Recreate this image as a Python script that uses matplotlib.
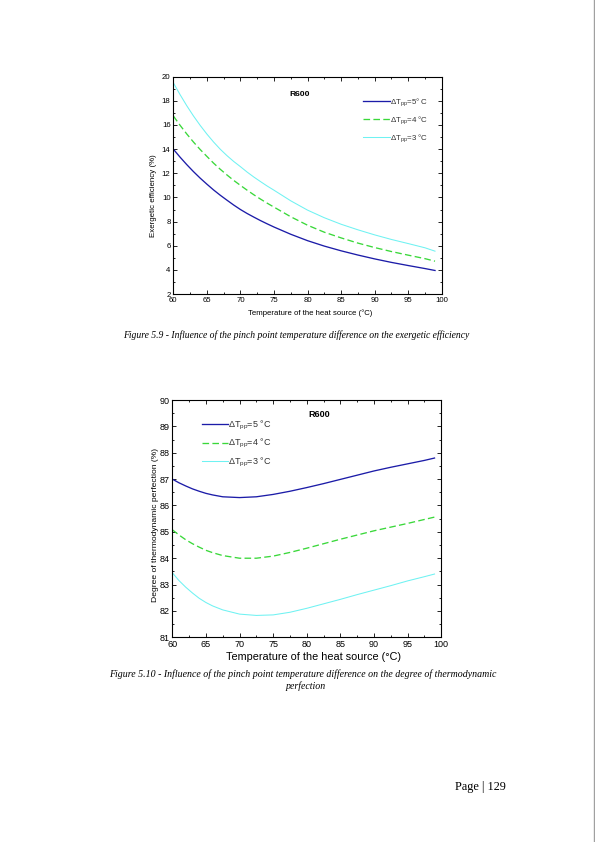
import matplotlib
matplotlib.use("Agg")
import matplotlib.pyplot as plt
from matplotlib.ticker import MultipleLocator
from matplotlib.lines import Line2D

plt.rcParams['font.family'] = ['Liberation Sans', 'DejaVu Sans']
plt.rcParams['mathtext.fontset'] = 'custom'
plt.rcParams['mathtext.rm'] = 'Liberation Sans'
plt.rcParams['mathtext.it'] = 'Liberation Sans'

# ---- data ----
temp_top = [60, 61, 62, 63, 64, 65, 66, 67, 68, 69, 70, 71, 72, 73, 74, 75,
            77.5, 80, 82.5, 85, 87.5, 90, 92.5, 95, 97.5, 99]
exerg_pp5 = [14.0, 13.34, 12.72, 12.14, 11.6, 11.1, 10.62, 10.18, 9.77, 9.37, 9.0,
             8.67, 8.37, 8.08, 7.81, 7.55,
             6.95, 6.42, 5.97, 5.58, 5.23, 4.91, 4.62, 4.36, 4.11, 3.95]
exerg_pp4 = [16.75, 15.98, 15.26, 14.59, 13.97, 13.4, 12.84, 12.33, 11.86, 11.41, 11.0,
             10.6, 10.22, 9.86, 9.52, 9.2,
             8.4, 7.7, 7.12, 6.65, 6.22, 5.85, 5.52, 5.22, 4.93, 4.72]
exerg_pp3 = [19.5, 18.52, 17.6, 16.75, 15.97, 15.25, 14.59, 13.99, 13.46, 12.98, 12.55,
             12.1, 11.69, 11.31, 10.94, 10.6,
             9.72, 8.95, 8.32, 7.78, 7.32, 6.9, 6.52, 6.18, 5.83, 5.55]

temp_bot = [60, 61, 62, 63, 64, 65, 66, 67.5, 70, 72.5, 75, 77.5, 80, 82.5, 85,
            87.5, 90, 92.5, 95, 97.5, 99]
perf_pp5 = [87.0, 86.86, 86.74, 86.63, 86.54, 86.46, 86.4, 86.33, 86.30, 86.33, 86.42,
            86.54, 86.68, 86.83, 86.99, 87.15, 87.31, 87.45, 87.58, 87.71, 87.80]
perf_pp4 = [85.08, 84.88, 84.7, 84.55, 84.42, 84.3, 84.21, 84.1, 84.0, 84.0, 84.08,
            84.22, 84.38, 84.55, 84.72, 84.88, 85.04, 85.18, 85.32, 85.47, 85.56]
perf_pp3 = [83.45, 83.15, 82.9, 82.68, 82.48, 82.32, 82.19, 82.04, 81.88, 81.83, 81.85,
            81.95, 82.1, 82.27, 82.44, 82.62, 82.79, 82.96, 83.14, 83.3, 83.4]

labels_top = [r'$\Delta$T$_{\rm pp}$=5° C', r'$\Delta$T$_{\rm pp}$=4 °C', r'$\Delta$T$_{\rm pp}$=3 °C']
labels_bot = [r'$\Delta$T$_{\rm pp}$=5 °C', r'$\Delta$T$_{\rm pp}$=4 °C', r'$\Delta$T$_{\rm pp}$=3 °C']

xticks = [60, 65, 70, 75, 80, 85, 90, 95, 100]
yticks_top = [2, 4, 6, 8, 10, 12, 14, 16, 18, 20]
yticks_bot = [81, 82, 83, 84, 85, 86, 87, 88, 89, 90]

c_blue = '#1c1ca8'
c_green = '#3ad83a'
c_cyan = '#6ff2f2'

fig = plt.figure(figsize=(5.95, 8.42), dpi=100)


def style_axes(ax, ymin, ymax, yticks, yminor, fs):
    ax.set_xlim(60, 100)
    ax.set_ylim(ymin, ymax)
    ax.set_xticks(xticks)
    ax.set_yticks(yticks)
    ax.xaxis.set_minor_locator(MultipleLocator(2.5))
    ax.yaxis.set_minor_locator(MultipleLocator(yminor))
    ax.tick_params(which='both', direction='in', top=True, right=True, labelsize=fs, pad=2, width=0.6)
    ax.tick_params(which='major', length=3)
    ax.tick_params(which='minor', length=1.5)
    for s in ax.spines.values():
        s.set_linewidth(0.8)


# ---- top chart ----
ax1 = fig.add_axes([0.2913, 0.6508, 0.4511, 0.2581])
ax1.plot(temp_top, exerg_pp5, color=c_blue, lw=0.95)
ax1.plot(temp_top, exerg_pp4, color=c_green, lw=0.95, dashes=(5, 2.5))
ax1.plot(temp_top, exerg_pp3, color=c_cyan, lw=0.75)
style_axes(ax1, 2, 20, yticks_top, 1, 5.6)
ax1.set_xlabel('Temperature of the heat source (°C)', fontsize=5.6)
ax1.set_ylabel('Exergetic efficiency (%)', fontsize=5.7)
ax1.xaxis.set_label_coords(0.511, -0.069)
ax1.yaxis.set_label_coords(-0.060, 0.451)
ax1.text(0.472, 0.92, 'R600', transform=ax1.transAxes, fontsize=6.1, fontweight='bold', ha='center', va='center')
h1 = [Line2D([], [], color=c_blue, lw=0.95),
      Line2D([], [], color=c_green, lw=0.95, dashes=(5, 2.5)),
      Line2D([], [], color=c_cyan, lw=0.75)]
ax1.legend(h1, labels_top, loc='upper left', bbox_to_anchor=(0.707, 0.909), frameon=False,
           fontsize=5.7, handlelength=3.4, handletextpad=0.0, labelspacing=0.77, borderpad=0,
           borderaxespad=0, labelcolor='#333333')

# ---- bottom chart ----
ax2 = fig.add_axes([0.2896, 0.2431, 0.4520, 0.2818])
ax2.plot(temp_bot, perf_pp5, color=c_blue, lw=0.95)
ax2.plot(temp_bot, perf_pp4, color=c_green, lw=0.95, dashes=(5, 2.5))
ax2.plot(temp_bot, perf_pp3, color=c_cyan, lw=0.75)
style_axes(ax2, 81, 90, yticks_bot, 0.5, 6.5)
ax2.set_xlabel('Temperature of the heat source (°C)', fontsize=7.8)
ax2.set_ylabel('Degree of thermodynamic perfection (%)', fontsize=6.1)
ax2.xaxis.set_label_coords(0.526, -0.06)
ax2.yaxis.set_label_coords(-0.049, 0.473)
ax2.text(0.545, 0.937, 'R600', transform=ax2.transAxes, fontsize=6.5, fontweight='bold', ha='center', va='center')
h2 = [Line2D([], [], color=c_blue, lw=0.95),
      Line2D([], [], color=c_green, lw=0.95, dashes=(5, 2.5)),
      Line2D([], [], color=c_cyan, lw=0.75)]
ax2.legend(h2, labels_bot, loc='upper left', bbox_to_anchor=(0.109, 0.920), frameon=False,
           fontsize=6.5, handlelength=2.95, handletextpad=0.0, labelspacing=0.57, borderpad=0,
           borderaxespad=0, labelcolor='#333333')

# ---- captions ----
cap = dict(family='Liberation Serif', style='italic', ha='center', va='center')
fig.text(296 / 595, 1 - 335 / 842,
         'Figure 5.9 - Influence of the pinch point temperature difference on the exergetic efficiency',
         fontsize=6.9, **cap)
fig.text(302.5 / 595, 1 - 674 / 842,
         'Figure 5.10 - Influence of the pinch point temperature difference on the degree of thermodynamic',
         fontsize=7.15, **cap)
fig.text(306 / 595, 1 - 686 / 842, 'perfection', fontsize=7.15, **cap)

fig.text(480 / 595, 1 - 787 / 842, 'Page | 129', family='Liberation Serif', fontsize=8.8,
         ha='center', va='center')

fig.add_artist(Line2D([594 / 595, 594 / 595], [0, 1], transform=fig.transFigure, color='#a0a0a0', lw=1.0))

fig.savefig('out.png', dpi=100)
